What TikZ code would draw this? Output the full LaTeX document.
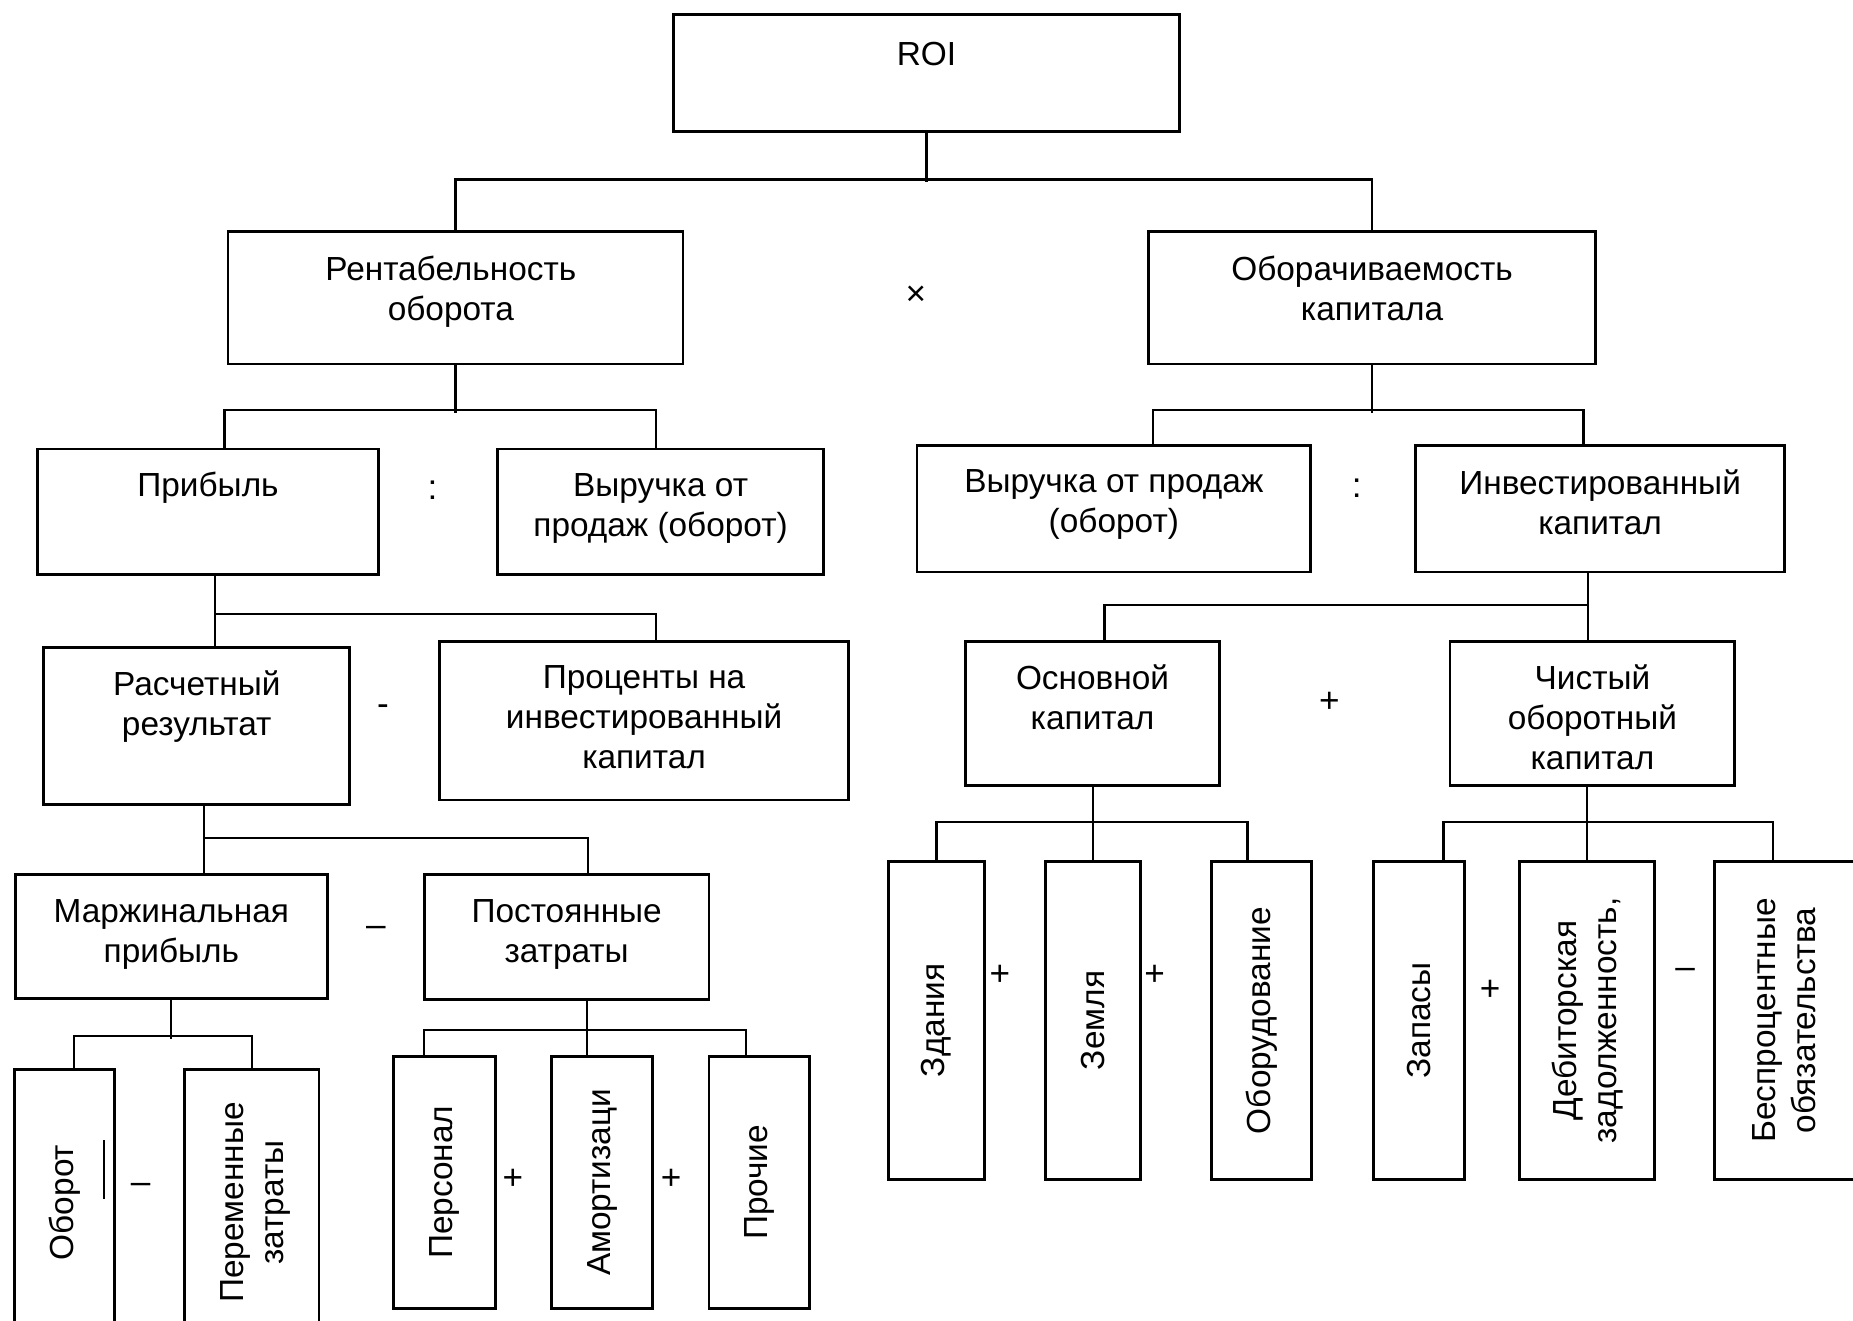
\documentclass[tikz,border=0pt]{standalone}
\usepackage{fontspec}
\setmainfont{Liberation Sans}
\usetikzlibrary{fit,calc}

\begin{document}
\begin{tikzpicture}[x=0.11818mm,y=-0.11818mm,
    box/.style={draw,line width=0.8pt,inner sep=0pt},
    txt/.style={anchor=north,align=center,inner sep=0pt,font=\fontsize{9.5}{11.4}\selectfont},
    vtxt/.style={rotate=90,align=center,inner sep=0pt,font=\fontsize{9.5}{11.4}\selectfont},
    sign/.style={inner sep=0pt,font=\fontsize{10}{12}\selectfont},
    link/.style={line width=0.65pt}]

    \useasboundingbox (0,0) rectangle (1568,1117);
    \clip (0,0) rectangle (1568,1117);

    % Livello 0
    \node[box,fit={(570,12) (998,111)}] (roi) {};
    \node[txt] (roi-t) at ($(roi.north)+(0,24)$) {ROI};

    % Livello 1
    \node[box,fit={(193,196) (578,308)}] (rent) {};
    \node[txt] (rent-t) at ($(rent.north)+(-4,21)$) {Рентабельность\\оборота};
    \node[box,fit={(972,196) (1350,308)}] (obor) {};
    \node[txt] (obor-t) at ($(obor.north)+(0,21)$) {Оборачиваемость\\капитала};
    \node[sign] (times) at (775,250) {×};

    % Livello 2
    \node[box,fit={(32,380) (320,486)}] (prib) {};
    \node[txt] (prib-t) at ($(prib.north)+(0,20)$) {Прибыль};
    \node[box,fit={(421,380) (697,486)}] (vyrL) {};
    \node[txt] (vyrL-t) at ($(vyrL.north)+(0,21)$) {Выручка от\\продаж (оборот)};
    \node[sign] (div1) at (366,415) {:};
    \node[box,fit={(776,377) (1109,484)}] (vyrR) {};
    \node[txt] (vyrR-t) at ($(vyrR.north)+(0,21)$) {Выручка от продаж\\(оборот)};
    \node[box,fit={(1198,377) (1510,484)}] (inv) {};
    \node[txt] (inv-t) at ($(inv.north)+(0,21)$) {Инвестированный\\капитал};
    \node[sign] (div2) at (1148,413) {:};

    % Livello 3
    \node[box,fit={(37,548) (296,681)}] (rasch) {};
    \node[txt] (rasch-t) at ($(rasch.north)+(0,20)$) {Расчетный\\результат};
    \node[sign] (minus1) at (324,601) {-};
    \node[box,fit={(372,543) (718,677)}] (proc) {};
    \node[txt] (proc-t) at ($(proc.north)+(0,21)$) {Проценты на\\инвестированный\\капитал};
    \node[box,fit={(817,543) (1032,665)}] (osn) {};
    \node[txt] (osn-t) at ($(osn.north)+(0,20)$) {Основной\\капитал};
    \node[sign] (plus1) at (1125,594) {+};
    \node[box,fit={(1227,543) (1468,665)}] (chist) {};
    \node[txt] (chist-t) at ($(chist.north)+(0,20)$) {Чистый\\оборотный\\капитал};

    % Livello 4
    \node[box,fit={(13,740) (277,845)}] (marzh) {};
    \node[txt] (marzh-t) at ($(marzh.north)+(0,22)$) {Маржинальная\\прибыль};
    \node[sign] (minus2) at (318,788) {–};
    \node[box,fit={(359,740) (600,846)}] (post) {};
    \node[txt] (post-t) at ($(post.north)+(0,22)$) {Постоянные\\затраты};

    % Foglie (testo verticale)
    \node[box,fit={(12,905) (97,1130)}] (oborot) {};
    \node[vtxt] (oborot-t) at (oborot) {Оборот};
    \draw[line width=0.8pt] (88,965) -- (88,1015);
    \node[sign] (minus3) at (119,1006) {–};
    \node[box,fit={(156,905) (270,1130)}] (perem) {};
    \node[vtxt] (perem-t) at ($(perem)+(3,0)$) {Переменные\\затраты};

    \node[box,fit={(333,894) (419,1107)}] (pers) {};
    \node[vtxt] (pers-t) at (pers) {Персонал};
    \node[sign] (plus2) at (434,998) {+};
    \node[box,fit={(467,894) (552,1107)}] (amort) {};
    \node[vtxt] (amort-t) at (amort) {Амортизаци};
    \node[sign] (plus3) at (568,998) {+};
    \node[box,fit={(600,894) (685,1107)}] (proch) {};
    \node[vtxt] (proch-t) at (proch) {Прочие};

    \node[box,fit={(752,729) (833,998)}] (zdan) {};
    \node[vtxt] (zdan-t) at (zdan) {Здания};
    \node[sign] (plus4) at (846,825) {+};
    \node[box,fit={(885,729) (965,998)}] (zeml) {};
    \node[vtxt] (zeml-t) at (zeml) {Земля};
    \node[sign] (plus5) at (977,825) {+};
    \node[box,fit={(1025,729) (1110,998)}] (oborud) {};
    \node[vtxt] (oborud-t) at (oborud) {Оборудование};

    \node[box,fit={(1162,729) (1239,998)}] (zapas) {};
    \node[vtxt] (zapas-t) at (zapas) {Запасы};
    \node[sign] (plus6) at (1261,838) {+};
    \node[box,fit={(1286,729) (1400,998)}] (debit) {};
    \node[vtxt] (debit-t) at (debit) {Дебиторская\\задолженность,};
    \node[sign] (minus4) at (1426,824) {–};
    \node[box,fit={(1451,729) (1569,998)}] (bespr) {};
    \node[vtxt] (bespr-t) at (bespr) {Беспроцентные\\обязательства};

    % Collegamenti
    \draw[link] (roi.south) -- ++(0,42);
    \draw[link] (rent.north) -- ++(0,-43) -| (obor.north);

    \draw[link] (rent.south) -- ++(0,40);
    \draw[link] ($(prib.north)+(14,0)$) -- ++(0,-32) -| ($(vyrL.north)+(-4,0)$);
    \draw[link] (obor.south) -- ++(0,40);
    \draw[link] ($(vyrR.north)+(33,0)$) -- ++(0,-29) -| ($(inv.north)+(-14,0)$);

    \draw[link] ($(prib.south)+(6,0)$) -- ++(0,62);
    \draw[link] ($(proc.north)+(10,0)$) |- ($(rasch.north)+(16,-27)$);
    \draw[link] ($(inv.south)+(-10,0)$) -- ++(0,59);
    \draw[link] ($(osn.north)+(10,0)$) |- ($(chist.north)+(-4,-30)$);

    \draw[link] ($(rasch.south)+(6,0)$) -- ++(0,59);
    \draw[link] ($(post.north)+(18,0)$) |- ($(marzh.north)+(27,-30)$);

    \draw[link] (marzh.south) -- ++(0,33);
    \draw[link] ($(oborot.north)+(8,0)$) -- ++(0,-27) -| (perem.north);
    \draw[link] ($(post.south)+(17,0)$) -- ++(0,48);
    \draw[link] ($(pers.north)+(-17,0)$) -- ++(0,-21) -| ($(proch.north)+(-11,0)$);

    \draw[link] (zeml.north |- osn.south) -- (zeml.north);
    \draw[link] (zdan.north) -- ++(0,-32) -| ($(oborud.north)+(-12,0)$);
    \draw[link] (debit.north |- chist.south) -- (debit.north);
    \draw[link] ($(zapas.north)+(21,0)$) -- ++(0,-32) -| ($(bespr.north)+(-10,0)$);

\end{tikzpicture}
\end{document}
